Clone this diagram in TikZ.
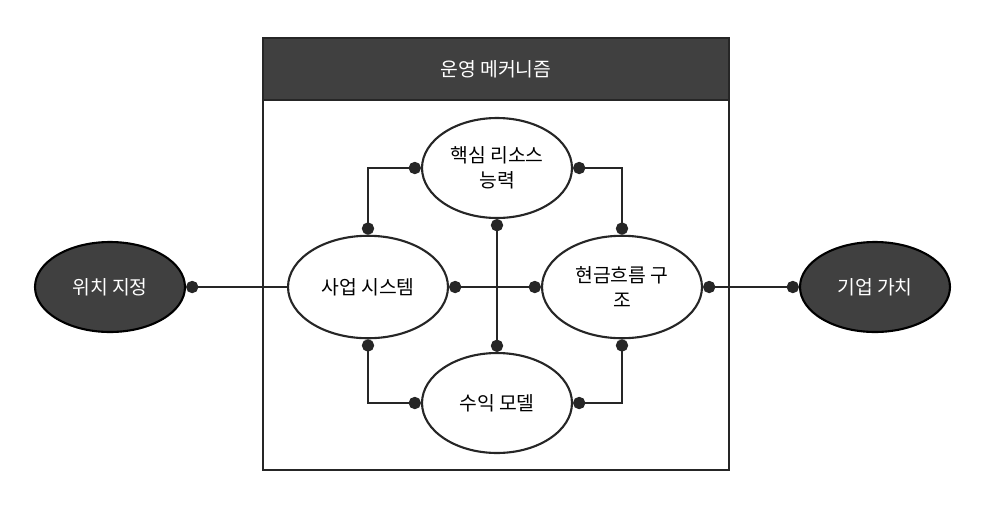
\documentclass[tikz,border=0pt]{standalone}
\usepackage{fontspec}
\setmainfont{Noto Sans CJK KR}
\usetikzlibrary{arrows.meta,shapes.geometric}
\tikzset{
  inner/.style={ellipse,draw=black!85,line width=1.2pt,fill=white,minimum width=3.2cm,minimum height=2.05cm,align=center,font=\fontsize{11}{14}\selectfont},
  outer/.style={ellipse,draw=black,line width=1.2pt,fill=black!75,text=white,minimum width=3cm,minimum height=1.8cm,font=\fontsize{11}{14}\selectfont},
  link/.style={line width=1.2pt,draw=black!85},
  dot/.tip={Circle[length=7pt,width=7pt]},
}
\begin{document}
\begin{tikzpicture}[x=0.02cm,y=-0.02cm]
  \useasboundingbox (0,0) rectangle (985,508);
  % frame
  \draw[line width=1.2pt,black!85] (263,38) rectangle (729,470);
  \fill[black!75] (263,38) rectangle (729,100);
  \draw[line width=1.2pt,black!85] (263,38) rectangle (729,100);
  \node[text=white,font=\fontsize{11}{14}\selectfont] (title) at (496,69) {운영 메커니즘};
  % nodes
  \node[outer] (pos) at (110,287) {위치 지정};
  \node[outer] (val) at (875,287) {기업 가치};
  \node[inner] (sys) at (368,287) {사업 시스템};
  \node[inner] (cash) at (622,287) {현금흐름 구\\조};
  \node[inner,minimum width=3cm,minimum height=2cm] (core) at (497,168) {핵심 리소스\\능력};
  \node[inner,minimum width=3cm,minimum height=2cm] (rev) at (497,403) {수익 모델};
  % links
  \draw[link,{dot}-] (pos.east) -- (sys.west);
  \draw[link,{dot}-{dot}] (cash.east) -- (val.west);
  \draw[link,{dot}-{dot}] (sys.east) -- (cash.west);
  \draw[link,{dot}-{dot}] (core.south) -- (rev.north);
  \draw[link,{dot}-{dot}] (sys.north) |- (core.west);
  \draw[link,{dot}-{dot}] (cash.north) |- (core.east);
  \draw[link,{dot}-{dot}] (sys.south) |- (rev.west);
  \draw[link,{dot}-{dot}] (cash.south) |- (rev.east);
\end{tikzpicture}
\end{document}
